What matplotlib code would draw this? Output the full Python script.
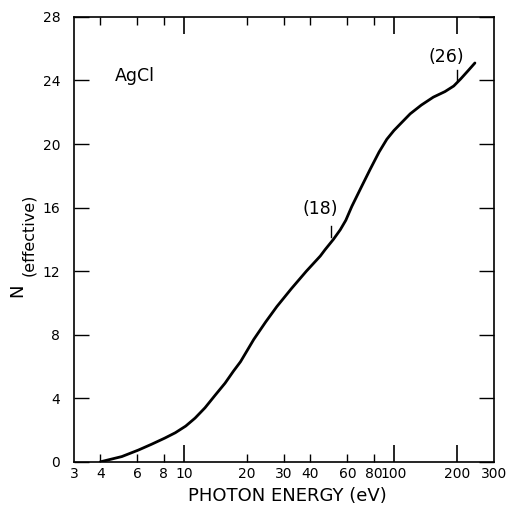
import matplotlib
matplotlib.use("Agg")
import matplotlib.pyplot as plt
from matplotlib.ticker import FixedLocator, NullFormatter, NullLocator

plt.rcParams['font.family'] = ['DejaVu Sans']

# photon energy (eV) and effective electron number
energy = [4, 5.06, 6.07, 7, 8.1, 9.1, 10.2, 11.3, 12.6, 14.1, 15.7, 17.2,
          18.6, 20, 21.5, 24.5, 27.7, 32.5, 38.3, 44.6, 47, 51.5, 55.5, 59,
          63, 70, 77, 85, 92.5, 100, 107, 119.5, 135, 154, 175, 192.6, 208,
          225, 243]
n_eff = [0, 0.33, 0.74, 1.1, 1.49, 1.83, 2.25, 2.75, 3.4, 4.2, 4.95, 5.7,
         6.3, 7.0, 7.7, 8.8, 9.77, 10.9, 12.0, 12.95, 13.35, 14.0, 14.6, 15.2,
         16.07, 17.3, 18.4, 19.5, 20.3, 20.85, 21.25, 21.9, 22.45, 22.95, 23.3,
         23.65, 24.1, 24.6, 25.1]

x_labels = [3, 4, 6, 8, 10, 20, 30, 40, 60, 80, 100, 200, 300]
x_major = [10, 100, 200]
x_minor = [4, 6, 8, 20, 30, 40, 60, 80]
y_ticks = [0, 4, 8, 12, 16, 20, 24, 28]

# markers for the (18) and (26) electron counts
marks = [(50, 14.15, 14.85, "(18)", 44.7, 15.9),
         (200, 24.04, 24.67, "(26)", 178, 25.45)]

fig = plt.figure(figsize=(5.11, 5.12), dpi=100)
ax = fig.add_axes([0.145, 0.098, 0.822, 0.869])

ax.plot(energy, n_eff, color='black', linewidth=2.0,
        solid_capstyle='round', solid_joinstyle='round')

ax.set_xscale('log')
ax.set_xlim(3, 300)
ax.set_ylim(0, 28)

# ticks: long at 10/100/200, short elsewhere, all pointing inward
ax.xaxis.set_major_locator(FixedLocator(x_major))
ax.xaxis.set_minor_locator(FixedLocator(x_minor))
ax.xaxis.set_major_formatter(NullFormatter())
ax.xaxis.set_minor_formatter(NullFormatter())
ax.tick_params(axis='x', which='major', direction='in', length=12, width=1.2,
               top=True, bottom=True)
ax.tick_params(axis='x', which='minor', direction='in', length=6, width=1.0,
               top=True, bottom=True)
for v in x_labels:
    ax.text(v, -0.35, str(v), ha='center', va='top', fontsize=10)

ax.set_yticks(y_ticks)
ax.yaxis.set_minor_locator(NullLocator())
ax.tick_params(axis='y', direction='in', length=11, width=1.0,
               left=True, right=True, labelsize=10, pad=10)

for s in ax.spines.values():
    s.set_linewidth(1.2)

# axis titles
fig.text(0.5617, 0.031, "PHOTON ENERGY (eV)", fontsize=13,
         ha='center', va='center')
fig.text(0.0333, 0.4336, "N", fontsize=13, rotation=90,
         ha='center', va='center')
fig.text(0.0567, 0.542, "(effective)", fontsize=11.5, rotation=90,
         ha='center', va='center')

ax.text(4.7, 24.3, "AgCl", fontsize=12.5, ha='left', va='center')

for xv, y0, y1, label, tx, ty in marks:
    ax.plot([xv, xv], [y0, y1], color='black', linewidth=1.0)
    ax.text(tx, ty, label, fontsize=12.5, ha='center', va='center')

fig.savefig("out.png", dpi=100, facecolor='white')
